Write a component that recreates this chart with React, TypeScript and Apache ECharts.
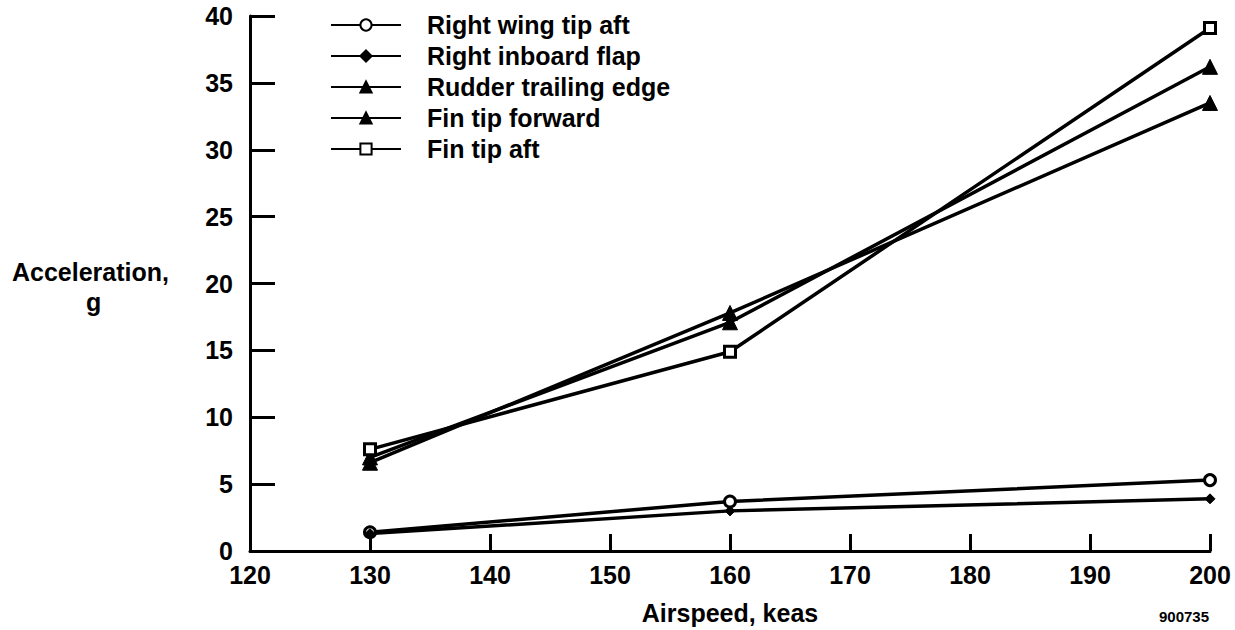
import React, { useEffect, useRef } from "react";
import * as echarts from "echarts";

const airspeed = [130, 160, 200];
const rightWingTipAft = [1.4, 3.7, 5.3];
const rightInboardFlap = [1.3, 3.0, 3.9];
const rudderTrailingEdge = [6.6, 17.8, 33.5];
const finTipForward = [7.0, 17.1, 36.2];
const finTipAft = [7.6, 14.9, 39.1];
const seriesNames = [
  "Right wing tip aft",
  "Right inboard flap",
  "Rudder trailing edge",
  "Fin tip forward",
  "Fin tip aft",
];

const FONT = "'Liberation Sans', Arial, sans-serif";
const FS = 25;

export default function App() {
  const ref = useRef<HTMLDivElement>(null);
  useEffect(() => {
    if (!ref.current) return;
    const chart = echarts.init(ref.current, null, { renderer: "svg" });
    const pair = (arr: number[]) => airspeed.map((x, i) => [x, arr[i]]);
    const base = {
      type: "line",
      color: "#000",
      lineStyle: { color: "#000", width: 3.5 },
      symbolKeepAspect: true,
    };
    chart.setOption({
      animation: false,
      backgroundColor: "#fff",
      textStyle: { fontFamily: FONT },
      grid: { left: 250, right: 25, top: 16, bottom: 75 },
      legend: {
        orient: "vertical",
        left: 325,
        top: 7,
        itemWidth: 70,
        itemHeight: 14,
        itemGap: 5,
        data: seriesNames,
        textStyle: {
          fontFamily: FONT,
          fontWeight: "bold",
          fontSize: FS,
          color: "#000",
          padding: [0, 0, 0, 21],
          lineHeight: 26,
        },
      },
      xAxis: {
        type: "value",
        min: 120,
        max: 200,
        interval: 10,
        splitLine: { show: false },
        axisLine: { lineStyle: { color: "#000", width: 3 } },
        axisTick: { inside: true, length: 17, lineStyle: { color: "#000", width: 3 } },
        axisLabel: {
          color: "#000",
          fontSize: FS,
          fontWeight: "bold",
          fontFamily: FONT,
          margin: 11,
        },
        name: "Airspeed, keas",
        nameLocation: "middle",
        nameGap: 49,
        nameTextStyle: { color: "#000", fontSize: FS, fontWeight: "bold", fontFamily: FONT },
      },
      yAxis: {
        type: "value",
        min: 0,
        max: 40,
        interval: 5,
        splitLine: { show: false },
        axisLine: { show: true, lineStyle: { color: "#000", width: 3 } },
        axisTick: { show: true, inside: true, length: 25, lineStyle: { color: "#000", width: 3 } },
        axisLabel: {
          color: "#000",
          fontSize: FS,
          fontWeight: "bold",
          fontFamily: FONT,
          margin: 17,
        },
      },
      graphic: [
        {
          type: "text",
          left: 12,
          top: 259,
          style: { text: "Acceleration,", fill: "#000", font: `bold ${FS}px ${FONT}` },
        },
        {
          type: "text",
          left: 86,
          top: 289,
          style: { text: "g", fill: "#000", font: `bold ${FS}px ${FONT}` },
        },
        {
          type: "text",
          left: 1159,
          top: 609,
          style: { text: "900735", fill: "#000", font: `bold 15px ${FONT}` },
        },
      ],
      series: [
        {
          ...base,
          name: seriesNames[0],
          data: pair(rightWingTipAft),
          symbol: "circle",
          symbolSize: 11,
          itemStyle: { color: "#fff", borderColor: "#000", borderWidth: 3 },
        },
        {
          ...base,
          name: seriesNames[1],
          data: pair(rightInboardFlap),
          symbol: "diamond",
          symbolSize: 10,
          itemStyle: { color: "#000", borderColor: "#000", borderWidth: 1 },
        },
        {
          ...base,
          name: seriesNames[2],
          data: pair(rudderTrailingEdge),
          symbol: "triangle",
          symbolSize: 15,
          itemStyle: { color: "#000", borderColor: "#000", borderWidth: 1 },
        },
        {
          ...base,
          name: seriesNames[3],
          data: pair(finTipForward),
          symbol: "triangle",
          symbolSize: 15,
          itemStyle: { color: "#000", borderColor: "#000", borderWidth: 1 },
        },
        {
          ...base,
          name: seriesNames[4],
          data: pair(finTipAft),
          symbol: "rect",
          symbolSize: 11,
          itemStyle: { color: "#fff", borderColor: "#000", borderWidth: 3 },
        },
      ],
    });
    return () => chart.dispose();
  }, []);
  return (
    <div
      ref={ref}
      style={{ position: "fixed", left: 0, top: 0, width: 1235, height: 630, background: "#fff" }}
    />
  );
}
